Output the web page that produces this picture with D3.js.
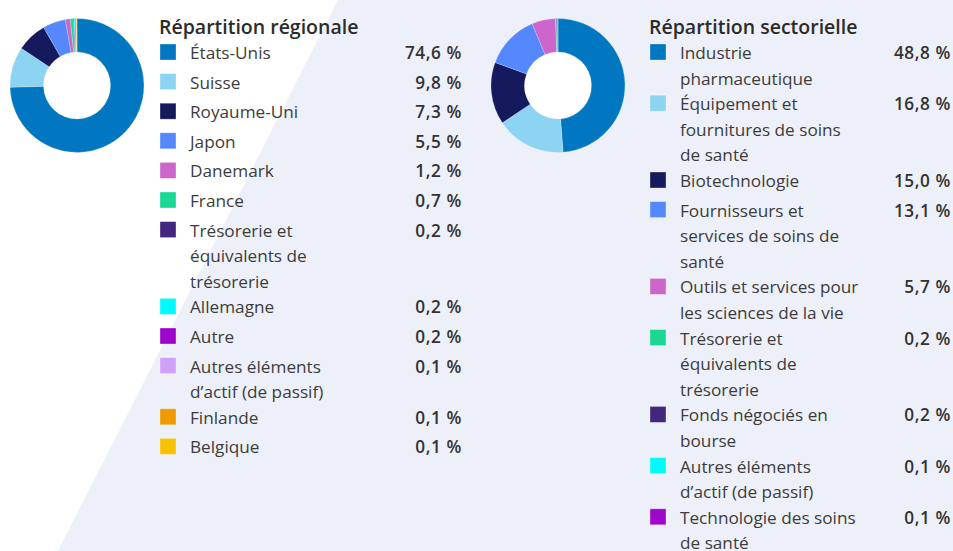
<!DOCTYPE html>
<html>
<head>
<meta charset="utf-8">
<script src="https://cdn.jsdelivr.net/npm/d3@7"></script>
<style>
  html, body { margin: 0; padding: 0; background: #ffffff; }
  svg { display: block; }
  text { font-family: "Open Sans", Lato, sans-serif; }
</style>
</head>
<body>
<svg id="chart" width="953" height="551"></svg>
<script>
// ---------- DATA ----------
const regionTitle = "Répartition régionale";
const regionCategories = [
  "États-Unis", "Suisse", "Royaume-Uni", "Japon", "Danemark", "France",
  "Trésorerie et\néquivalents de\ntrésorerie", "Allemagne", "Autre",
  "Autres éléments\nd’actif (de passif)", "Finlande", "Belgique"
];
const regionValues = [74.6, 9.8, 7.3, 5.5, 1.2, 0.7, 0.2, 0.2, 0.2, 0.1, 0.1, 0.1];
const regionColors = [
  "#0077C0", "#8DD3F2", "#151A5E", "#5588FF", "#CC66CC", "#19D896",
  "#43267F", "#00FBFF", "#9E06CC", "#CFA2F7", "#EE9A00", "#F8C000"
];

const sectorTitle = "Répartition sectorielle";
const sectorCategories = [
  "Industrie\npharmaceutique",
  "Équipement et\nfournitures de soins\nde santé",
  "Biotechnologie",
  "Fournisseurs et\nservices de soins de\nsanté",
  "Outils et services pour\nles sciences de la vie",
  "Trésorerie et\néquivalents de\ntrésorerie",
  "Fonds négociés en\nbourse",
  "Autres éléments\nd’actif (de passif)",
  "Technologie des soins\nde santé"
];
const sectorValues = [48.8, 16.8, 15.0, 13.1, 5.7, 0.2, 0.2, 0.1, 0.1];
const sectorColors = [
  "#0077C0", "#8DD3F2", "#151A5E", "#5588FF", "#CC66CC", "#19D896",
  "#43267F", "#00FBFF", "#9E06CC"
];

// ---------- DRAW ----------
const W = 953, H = 551;
const svg = d3.select("#chart");
const fr = d3.formatLocale({decimal: ",", thousands: " ", grouping: [3], currency: ["", " €"]});
const fmt = v => fr.format(".1f")(v) + " %";

// background: white on the left, lavender panel with a diagonal edge
svg.append("rect").attr("width", W).attr("height", H).attr("fill", "#ffffff");
svg.append("path")
  .attr("d", d3.line()([[338, 0], [W, 0], [W, H], [58, H]]) + "Z")
  .attr("fill", "#EDF0F9");

function donut(cx, cy, values, colors) {
  const pie = d3.pie().sort(null).value(d => d)(values);
  const arc = d3.arc().innerRadius(33.5).outerRadius(67);
  const g = svg.append("g").attr("transform", `translate(${cx},${cy})`);
  g.append("circle").attr("r", 33.5).attr("fill", "#ffffff");
  g.selectAll("path").data(pie).join("path")
    .attr("d", arc)
    .attr("fill", (d, i) => colors[i])
    .attr("stroke", "#ffffff")
    .attr("stroke-opacity", 0.35)
    .attr("stroke-width", 0.6);
}

function legend(x, title, cats, values, colors, valueRight) {
  const g = svg.append("g");
  g.append("text")
    .attr("x", x - 1).attr("y", 34)
    .attr("font-size", 19.5).attr("font-weight", 600)
    .attr("fill", "#2b2b2b")
    .text(title);
  const lineH = 25.6, minH = 29.6;
  let top = 44;
  cats.forEach((c, i) => {
    const lines = c.split("\n");
    g.append("rect")
      .attr("x", x).attr("y", top)
      .attr("width", 16).attr("height", 16)
      .attr("fill", colors[i])
      .attr("stroke", "#ffffff").attr("stroke-opacity", 0.4).attr("stroke-width", 0.8);
    lines.forEach((ln, j) => {
      g.append("text")
        .attr("x", x + 30).attr("y", top + 15 + j * lineH)
        .attr("font-size", 17.2).attr("fill", "#3c3c3c")
        .text(ln);
    });
    g.append("text")
      .attr("x", valueRight).attr("y", top + 15)
      .attr("text-anchor", "end")
      .attr("font-size", 17.2).attr("font-weight", 600).attr("fill", "#333333")
      .attr("letter-spacing", 0.6)
      .text(fmt(values[i]));
    top += Math.max(minH, lines.length * lineH);
  });
}

donut(77, 85.5, regionValues, regionColors);
donut(558, 85.5, sectorValues, sectorColors);
legend(160, regionTitle, regionCategories, regionValues, regionColors, 462);
legend(650, sectorTitle, sectorCategories, sectorValues, sectorColors, 951);
</script>
</body>
</html>
